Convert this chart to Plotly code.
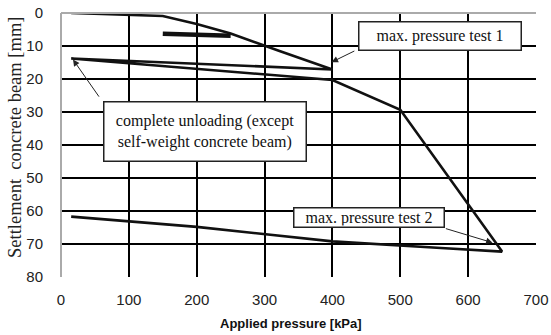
import plotly.graph_objects as go

# Loading/unloading path (applied pressure kPa, settlement mm)
pressure = [15, 150, 200, 250, 322, 400, 15, 400, 500, 650, 560, 400, 200, 15]
settlement = [0, 0.9, 3.3, 6.2, 11.5, 17.1, 13.8, 20.3, 29.3, 72.3, 71.2, 69.2, 64.8, 61.7]

# Short unloading/reloading loop at 250 kPa (drawn thick)
loop_pressure = [150, 250]
loop_settlement = [6.3, 6.9]

x_ticks = [0, 100, 200, 300, 400, 500, 600, 700]
y_ticks = [0, 10, 20, 30, 40, 50, 60, 70, 80]

fig = go.Figure()
fig.add_trace(go.Scatter(x=pressure, y=settlement, mode="lines",
                         line=dict(color="#111", width=2.6), hoverinfo="skip"))
fig.add_trace(go.Scatter(x=loop_pressure, y=loop_settlement, mode="lines",
                         line=dict(color="#111", width=4.5), hoverinfo="skip"))

serif = "Liberation Serif"
sans = "Liberation Sans"

# Label boxes
box_style = dict(showarrow=False, bgcolor="white", bordercolor="#222", borderwidth=1.5,
                 font=dict(family=serif, size=16, color="#111"), xref="x", yref="y")
fig.add_annotation(x=559, y=6.9, text="max. pressure test 1", width=159, height=25,
                   borderpad=1, **box_style)
fig.add_annotation(x=212.8, y=36.0, text="complete unloading (except<br>self-weight concrete beam)",
                   width=199, height=56, borderpad=1, **box_style)
fig.add_annotation(x=453.9, y=61.9, text="max. pressure test 2", width=147, height=16,
                   borderpad=1, **box_style)

# Arrows (from box corners to the curve)
arrow_style = dict(text="", showarrow=True, arrowhead=2, arrowsize=1.3, arrowwidth=1,
                   arrowcolor="#222", xref="x", yref="y", axref="x", ayref="y")
fig.add_annotation(x=398.7, y=14.9, ax=434.5, ay=11.3, **arrow_style)
fig.add_annotation(x=17.7, y=14.1, ax=57.5, ay=25.8, **arrow_style)
fig.add_annotation(x=636, y=69.6, ax=565, ay=65.2, **arrow_style)

fig.update_layout(
    width=551, height=335,
    margin=dict(l=61, r=15, t=13, b=58, autoexpand=False),
    plot_bgcolor="white", paper_bgcolor="white",
    showlegend=False,
    font=dict(family=sans, size=15, color="#222"),
)
fig.update_xaxes(range=[0, 700], tickvals=x_ticks, showgrid=True, gridcolor="black", gridwidth=2,
                 zeroline=False, showline=False, ticks="outside", ticklen=9,
                 tickcolor="rgba(0,0,0,0)", automargin=False,
                 tickfont=dict(family=sans, size=15, color="#222"))
fig.update_yaxes(range=[80, 0], tickvals=y_ticks, showgrid=True, gridcolor="black", gridwidth=2,
                 zeroline=False, showline=False, ticks="outside", ticklen=14,
                 tickcolor="rgba(0,0,0,0)", automargin=False,
                 tickfont=dict(family=sans, size=15, color="#222"))

# Axis titles as text positioned relative to plot area (pixels converted to paper units)
plot_w = 551 - 61 - 15
plot_h = 335 - 13 - 58
fig.add_annotation(x=(15 - 61) / plot_w, y=(335 - 58 - 138) / plot_h, xref="paper", yref="paper",
                   xanchor="center", yanchor="middle",
                   text="Settlement  concrete beam [mm]", showarrow=False, textangle=-90,
                   font=dict(family=serif, size=18.5, color="#222"))
fig.add_annotation(x=(291 - 61) / plot_w, y=(335 - 58 - 323) / plot_h, xref="paper", yref="paper",
                   xanchor="center", yanchor="middle",
                   text="<b>Applied pressure [kPa]</b>", showarrow=False,
                   font=dict(family=sans, size=13, color="#111"))

# Plot frame: gray left and top
fig.add_shape(type="line", xref="x domain", yref="y domain", x0=0, x1=0, y0=0, y1=1,
              line=dict(color="#aaa", width=2), layer="above")
fig.add_shape(type="line", xref="x domain", yref="y domain", x0=0, x1=1, y0=1, y1=1,
              line=dict(color="#aaa", width=2), layer="above")

fig.write_html("out.html", config={"displayModeBar": False},
               post_script="document.body.style.margin='0';")
